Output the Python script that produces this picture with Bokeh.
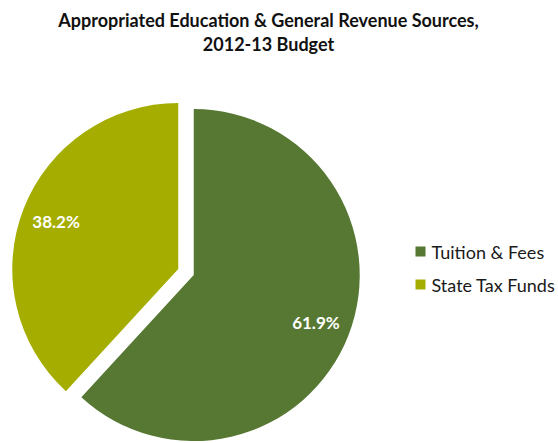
import math
from bokeh.plotting import figure
from bokeh.models import Range1d, ColumnDataSource, Label
from bokeh.core.properties import value
from bokeh.embed import file_html
from bokeh.resources import INLINE

# ---- data ----
categories = ["Tuition & Fees", "State Tax Funds"]
shares = [61.9, 38.2]
label_texts = ["61.9%", "38.2%"]
colors = ["#567832", "#A5AE00"]
title_lines = ["Appropriated Education & General Revenue Sources,", "2012-13 Budget"]

W, H = 558, 443
OX, OY = 0, 0  # page offset of the figure's top-left
p = figure(width=W, height=H, output_backend="svg", toolbar_location=None,
           x_range=Range1d(OX, OX + W), y_range=Range1d(443 - OY - H, 443 - OY),
           min_border=0)
p.axis.visible = False
p.grid.visible = False
p.outline_line_color = None
p.background_fill_color = "white"

# pie geometry (page pixel coords, y measured from page bottom)
cx, cy = 185.5, 443 - 271.6
R = 166
explode = 8.3
total = sum(shares)

starts, ends, xs, ys, lx, ly = [], [], [], [], [], []
a = math.pi / 2
for s in shares:
    sweep = s / total * 2 * math.pi
    st, en = a, a - sweep
    mid = (st + en) / 2
    x0 = cx + explode * math.cos(mid)
    y0 = cy + explode * math.sin(mid)
    starts.append(st); ends.append(en); xs.append(x0); ys.append(y0)
    lx.append(x0 + 0.79 * R * math.cos(mid)); ly.append(y0 + 0.79 * R * math.sin(mid))
    a = en

src = ColumnDataSource(dict(x=xs, y=ys, start=starts, end=ends, color=colors,
                            lx=lx, ly=ly, label=label_texts, cat=categories))
p.wedge(x="x", y="y", radius=R, start_angle="start", end_angle="end",
        direction="clock", fill_color="color", line_color=None, source=src)
p.text(x="lx", y="ly", text="label", source=src, text_color="white",
       text_font=value("Lato"), text_font_style="bold", text_font_size="17px",
       text_align="center", text_baseline="middle")

# legend (manual)
leg_x = 420
leg_y = [443 - 251, 443 - 284]
lsrc = ColumnDataSource(dict(x=[leg_x] * len(categories), y=leg_y, color=colors,
                             tx=[leg_x + 11] * len(categories), cat=categories))
p.rect(x="x", y="y", width=10, height=10, width_units="screen", height_units="screen",
       fill_color="color", line_color=None, source=lsrc)
p.text(x="tx", y="y", text="cat", source=lsrc, text_color="#1a1a1a",
       text_font=value("Lato"), text_font_size="18px", text_baseline="middle",
       text_align="left")

# title
for i, line in enumerate(title_lines):
    p.add_layout(Label(x=268 - OX, y=H - (19 + 24 * i - OY), x_units="screen", y_units="screen",
                       text=line, text_font="Lato", text_font_style="bold",
                       text_font_size="18px", text_align="center", text_baseline="alphabetic",
                       text_color="#111111"))

open("out.html", "w").write(file_html(p, INLINE))
